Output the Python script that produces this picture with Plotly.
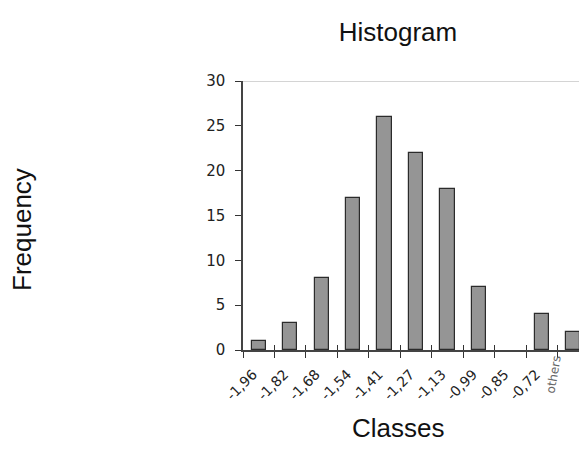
import plotly.graph_objects as go

# Data
class_labels = ["-1,96", "-1,82", "-1,68", "-1,54", "-1,41", "-1,27", "-1,13", "-0,99", "-0,85", "-0,72", "others"]
frequencies = [1, 3, 8, 17, 26, 22, 18, 7, 0, 4, 2]
y_ticks = [0, 5, 10, 15, 20, 25, 30]

n = len(frequencies)
bar_pos = [i + 0.5 for i in range(n)]
tick_pos = list(range(len(class_labels)))
tick_text = class_labels[:-1] + [""]
outline_w = [1.2 if v > 0 else 0 for v in frequencies]

W, H = 579, 464
L, R, T, B = 243, 0, 81, 114
x_max = 10.68

fig = go.Figure()
fig.add_trace(go.Bar(
    x=bar_pos, y=frequencies, width=0.45,
    marker=dict(color="#959595", line=dict(color="#2b2b2b", width=outline_w)),
    showlegend=False, hoverinfo="skip", cliponaxis=True,
))
# helper trace on overlay axis for inside ticks
fig.add_trace(go.Scatter(x=[0], y=[0], xaxis="x2", mode="markers",
                         marker=dict(opacity=0), showlegend=False, hoverinfo="skip"))

tickfont = dict(family="DejaVu Sans", size=15, color="#222222")

fig.update_layout(
    width=W, height=H,
    margin=dict(l=L, r=R, t=T, b=B, pad=0),
    paper_bgcolor="white", plot_bgcolor="white",
    bargap=0,
    title=dict(text="Histogram", x=398 / W, xanchor="center", xref="container",
               y=1 - 32 / H, yanchor="middle", yref="container",
               font=dict(family="Liberation Sans", size=26, color="#111111")),
    xaxis=dict(range=[0, x_max], tickmode="array", tickvals=tick_pos, ticktext=tick_text,
               tickangle=-45, ticks="outside", ticklen=6, tickwidth=1.2, tickcolor="#333333",
               showline=True, linecolor="#444444", linewidth=1.5, showgrid=False, zeroline=False,
               ticklabelshift=10, ticklabelstandoff=3,
               tickfont=dict(family="DejaVu Sans", size=14, color="#222222")),
    xaxis2=dict(range=[0, x_max], overlaying="x", side="bottom", tickmode="array",
                tickvals=tick_pos, ticktext=["" for _ in tick_pos], ticks="inside", ticklen=5,
                tickwidth=1.2, tickcolor="#333333", showline=False, showgrid=False, zeroline=False),
    yaxis=dict(range=[0, 30], tickmode="array", tickvals=y_ticks, ticks="outside", ticklen=6,
               tickwidth=1.2, tickcolor="#333333", showline=True, linecolor="#444444", linewidth=1.5,
               showgrid=False, zeroline=False, tickfont=tickfont, ticklabelstandoff=7),
    shapes=[dict(type="line", xref="paper", yref="y", x0=0, x1=1, y0=y_ticks[-1], y1=y_ticks[-1],
                 line=dict(color="#aaaaaa", width=1.2))],
    annotations=[
        dict(text="Frequency", textangle=-90, xref="paper", yref="paper",
             x=(22 - L) / (W - L - R), y=(H - B - 230) / (H - T - B), xanchor="center", yanchor="middle",
             showarrow=False, font=dict(family="Liberation Sans", size=26, color="#111111")),
        dict(text="Classes", xref="paper", yref="paper",
             x=(398 - L) / (W - L - R), y=(H - B - 428) / (H - T - B), xanchor="center", yanchor="middle",
             showarrow=False, font=dict(family="Liberation Sans", size=26, color="#111111")),
        dict(text=class_labels[-1], textangle=-80, xref="x", yref="paper",
             x=tick_pos[-1], xshift=-4, y=(H - B - 375) / (H - T - B), xanchor="center", yanchor="middle",
             showarrow=False, font=dict(family="DejaVu Sans", size=12, color="#666666")),
    ],
)

fig.write_html("out.html", config={"displayModeBar": False},
               post_script="document.body.style.margin='0';document.body.style.overflow='hidden';")
